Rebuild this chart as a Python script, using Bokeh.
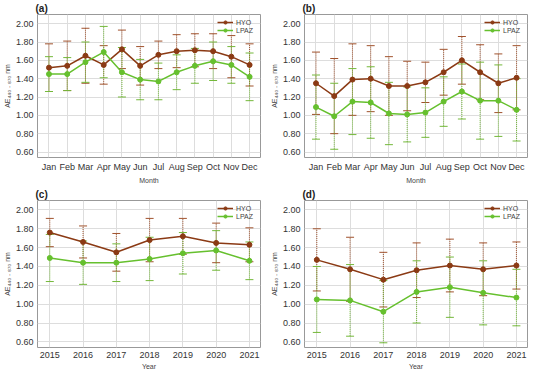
from bokeh.plotting import figure
from bokeh.layouts import gridplot
from bokeh.models import FixedTicker, Whisker, ColumnDataSource, Range1d, TeeHead, NumeralTickFormatter, Legend, LegendItem
from bokeh.embed import file_html
from bokeh.resources import INLINE

months = ["Jan", "Feb", "Mar", "Apr", "May", "Jun", "Jul", "Aug", "Sep", "Oct", "Nov", "Dec"]
years = [2015, 2016, 2017, 2018, 2019, 2020, 2021]

# (a)
a_hyo = [1.52, 1.54, 1.65, 1.55, 1.72, 1.54, 1.66, 1.70, 1.71, 1.70, 1.64, 1.55]
a_hyo_err = [0.26, 0.27, 0.30, 0.21, 0.21, 0.21, 0.15, 0.18, 0.18, 0.19, 0.23, 0.23]
a_lpaz = [1.45, 1.45, 1.58, 1.69, 1.47, 1.39, 1.37, 1.47, 1.54, 1.59, 1.55, 1.42]
a_lpaz_err = [0.19, 0.18, 0.22, 0.28, 0.27, 0.22, 0.20, 0.19, 0.19, 0.21, 0.20, 0.26]

# (b)
b_hyo = [1.35, 1.21, 1.39, 1.40, 1.32, 1.32, 1.36, 1.47, 1.60, 1.47, 1.35, 1.41]
b_hyo_err = [0.34, 0.41, 0.39, 0.36, 0.32, 0.27, 0.22, 0.25, 0.26, 0.30, 0.32, 0.35]
b_lpaz = [1.09, 0.99, 1.15, 1.14, 1.02, 1.01, 1.03, 1.15, 1.26, 1.16, 1.16, 1.06]
b_lpaz_err = [0.35, 0.36, 0.36, 0.39, 0.34, 0.30, 0.27, 0.27, 0.30, 0.42, 0.39, 0.34]

# (c)
c_hyo = [1.76, 1.66, 1.55, 1.68, 1.72, 1.65, 1.63]
c_hyo_err = [0.15, 0.17, 0.20, 0.23, 0.19, 0.21, 0.18]
c_lpaz = [1.49, 1.44, 1.44, 1.48, 1.54, 1.57, 1.46]
c_lpaz_err = [0.25, 0.23, 0.20, 0.23, 0.22, 0.21, 0.20]

# (d)
d_hyo = [1.47, 1.37, 1.26, 1.36, 1.41, 1.37, 1.41]
d_hyo_err = [0.33, 0.34, 0.29, 0.29, 0.28, 0.28, 0.25]
d_lpaz = [1.05, 1.04, 0.92, 1.13, 1.18, 1.12, 1.07]
d_lpaz_err = [0.35, 0.38, 0.33, 0.33, 0.32, 0.34, 0.30]

y_ticks = [0.6, 0.8, 1.0, 1.2, 1.4, 1.6, 1.8, 2.0]

HYO_C = "#8B3A14"
HYO_E = "#A0522D"
LPAZ_C = "#66C02E"
LPAZ_E = "#74B83A"
FONT = "Liberation Sans"


def panel(tag, xs, hyo, hyo_err, lpaz, lpaz_err, xlabel, xlabels=None):
    p = figure(width=267, height=186, output_backend="svg", toolbar_location=None,
               title=tag, min_border_left=4, min_border_right=7, min_border_top=2,
               min_border_bottom=0)
    p.title.text_font = FONT
    p.title.text_font_size = "10px"
    p.title.text_font_style = "bold"
    p.title.text_color = "#222222"
    p.title.align = "left"
    p.title.offset = -2
    p.title.standoff = 1
    p.y_range = Range1d(0.54, 2.10)
    pad = 0.63 if xlabels else 0.37
    p.x_range = Range1d(xs[0] - pad, xs[-1] + pad * (0.95 if xlabels else 0.9))
    p.xaxis.ticker = FixedTicker(ticks=list(xs))
    if xlabels:
        p.xaxis.major_label_overrides = {x: l for x, l in zip(xs, xlabels)}
    p.yaxis.ticker = FixedTicker(ticks=y_ticks)
    p.yaxis.formatter = NumeralTickFormatter(format="0.00")
    for ax in (p.xaxis[0], p.yaxis[0]):
        ax.major_label_text_font = FONT
        ax.major_label_text_font_size = "9px"
        ax.major_label_text_color = "#333333"
        ax.axis_label_text_font = FONT
        ax.axis_label_text_font_size = "7px"
        ax.axis_label_text_font_style = "normal"
        ax.axis_label_text_color = "#444444"
        ax.axis_line_color = None
        ax.major_tick_line_color = None
        ax.minor_tick_line_color = None
        ax.major_tick_out = 0
        ax.major_tick_in = 0
        ax.minor_tick_out = 0
        ax.axis_label_standoff = 2
        ax.major_label_standoff = 4
    p.xaxis.axis_label = xlabel
    p.yaxis.axis_label = "AE\u2084\u2084\u2080 \u208b \u2088\u2087\u2080 nm"
    p.outline_line_color = "#999999"
    p.grid.grid_line_color = "#dddddd"
    p.xgrid.ticker = FixedTicker(ticks=list(xs))
    p.ygrid.ticker = FixedTicker(ticks=y_ticks)

    items = []
    for vals, errs, col, ecol, name in ((hyo, hyo_err, HYO_C, HYO_E, "HYO"),
                                        (lpaz, lpaz_err, LPAZ_C, LPAZ_E, "LPAZ")):
        src = ColumnDataSource(dict(x=list(xs), y=vals,
                                    lo=[v - e for v, e in zip(vals, errs)],
                                    hi=[v + e for v, e in zip(vals, errs)]))
        w = Whisker(source=src, base="x", upper="hi", lower="lo", line_color=ecol,
                    line_width=1, line_dash="1 1",
                    upper_head=TeeHead(size=8, line_color=ecol, line_width=1),
                    lower_head=TeeHead(size=8, line_color=ecol, line_width=1))
        p.add_layout(w)
        r1 = p.line("x", "y", source=src, line_color=col, line_width=1.5)
        r2 = p.scatter("x", "y", source=src, size=5, fill_color=col, line_color=col)
        items.append(LegendItem(label=name, renderers=[r1, r2]))
    leg = Legend(items=items, location="top_right", label_text_font=FONT,
                 label_text_font_size="7px", label_text_color="#444444",
                 background_fill_alpha=0.0, border_line_color=None,
                 glyph_width=16, glyph_height=8, label_height=8, spacing=0,
                 padding=2, margin=4, label_standoff=3)
    p.add_layout(leg)
    return p


mx = list(range(1, 13))
pa = panel("(a)", mx, a_hyo, a_hyo_err, a_lpaz, a_lpaz_err, "Month", months)
pb = panel("(b)", mx, b_hyo, b_hyo_err, b_lpaz, b_lpaz_err, "Month", months)
pc = panel("(c)", years, c_hyo, c_hyo_err, c_lpaz, c_lpaz_err, "Year")
pd_ = panel("(d)", years, d_hyo, d_hyo_err, d_lpaz, d_lpaz_err, "Year")

grid = gridplot([[pa, pb], [pc, pd_]], toolbar_location=None, merge_tools=False)
open("out.html", "w").write(file_html(grid, INLINE))
